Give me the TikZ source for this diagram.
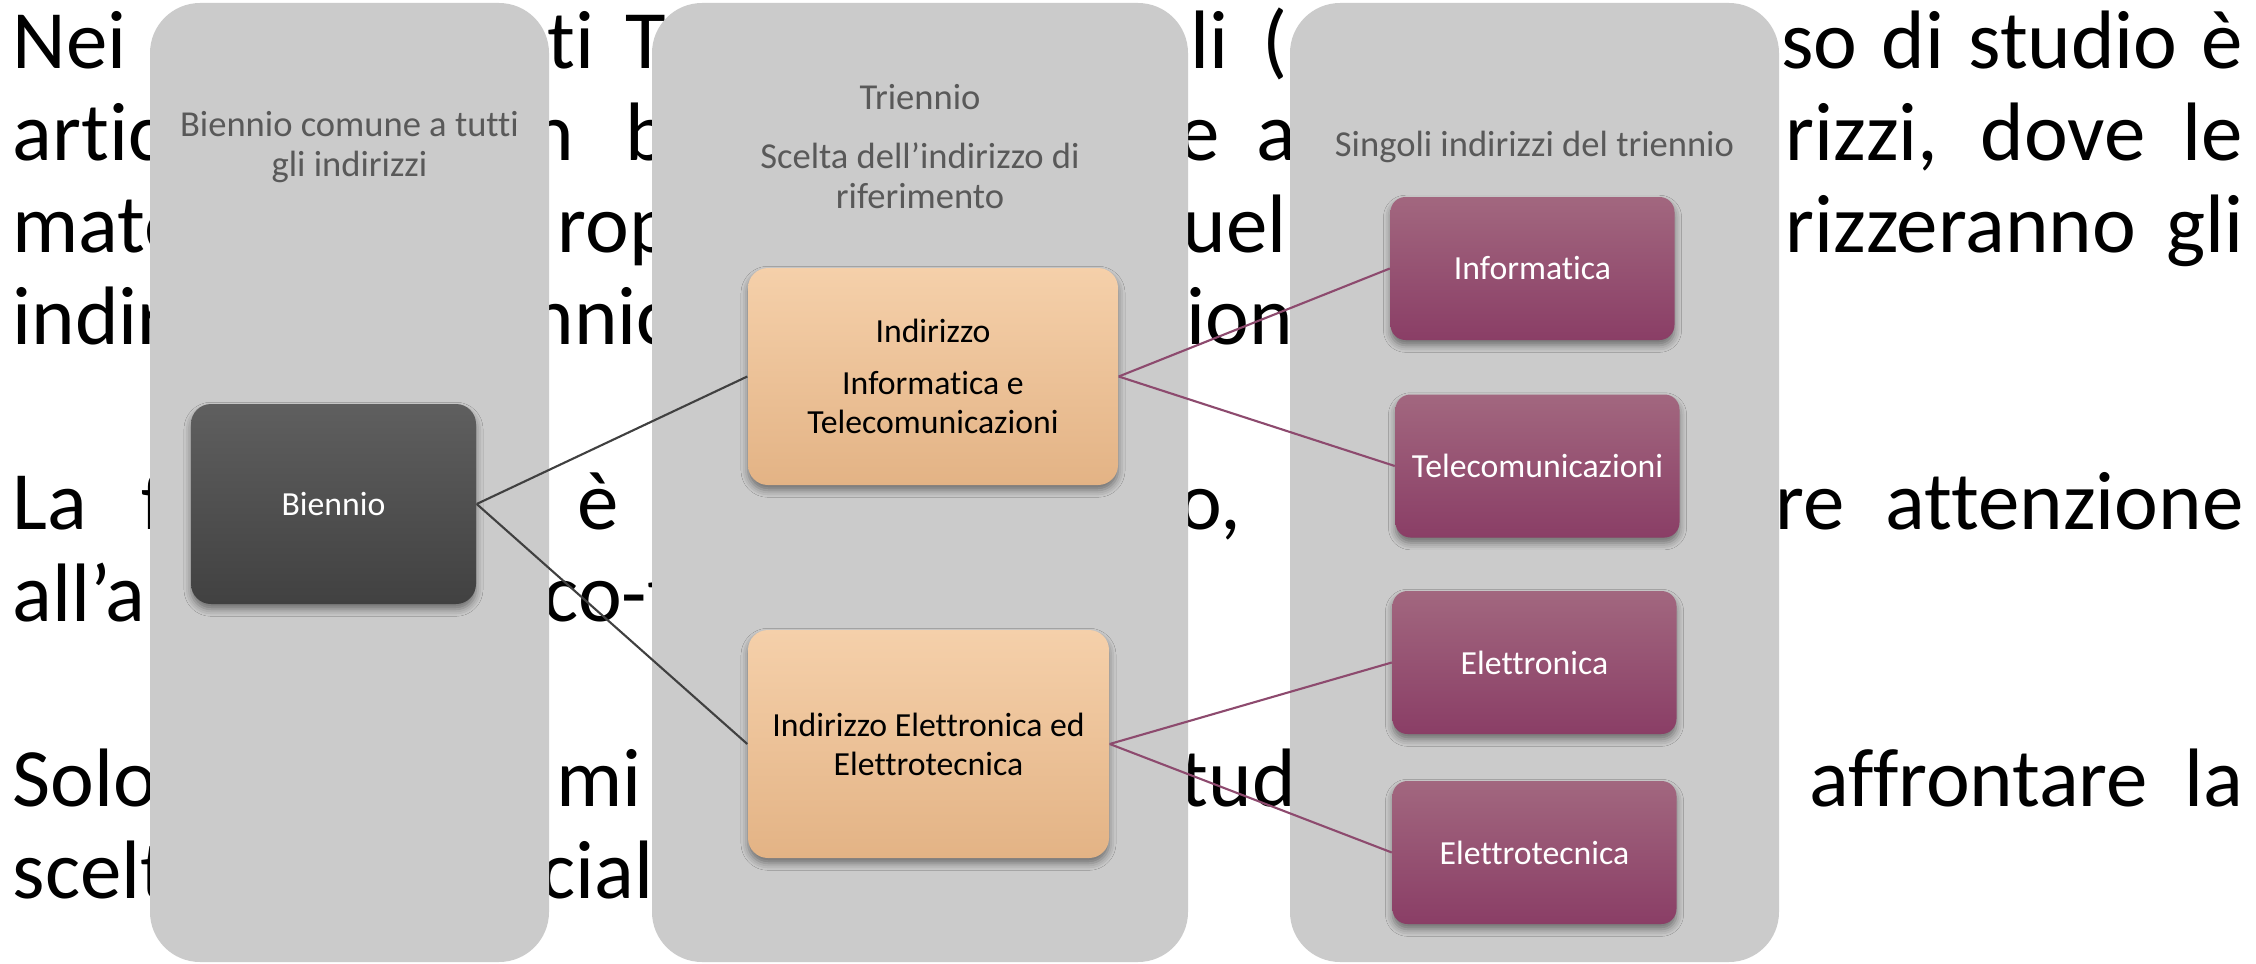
\documentclass[tikz,border=0pt]{standalone}
\usepackage{fontspec}
\setmainfont{Carlito}[Ligatures={NoCommon}]
\usetikzlibrary{shadows.blur}
\definecolor{panelgray}{HTML}{CBCBCB}
\definecolor{titlegray}{HTML}{595959}
\definecolor{darktop}{HTML}{5F5F5F}
\definecolor{darkbot}{HTML}{414141}
\definecolor{peachtop}{HTML}{F5D0AA}
\definecolor{peachbot}{HTML}{E3B385}
\definecolor{plumtop}{HTML}{A2677F}
\definecolor{plumbot}{HTML}{8A3E66}
\definecolor{plumline}{HTML}{8D4A6E}
\definecolor{darkline}{HTML}{404040}
\tikzset{body/.style={anchor=base west, inner sep=0pt, font=\fontsize{23.6}{26.3}\selectfont},
         bodyend/.style={body, anchor=base east},
         panel/.style={fill=panelgray, draw=none, rounded corners=0.5cm, inner sep=0pt},
         coltitle/.style={text=titlegray, align=center, inner sep=0pt, font=\fontsize{10.4}{11.4}\selectfont},
         box/.style={rounded corners=0.2cm, align=center, inner sep=0pt, font=\fontsize{9.6}{11.1}\selectfont,
                     blur shadow={shadow xshift=0pt, shadow yshift=-1.5pt, shadow blur radius=2pt, shadow opacity=45}},
         darkbox/.style={box, top color=darktop, bottom color=darkbot, text=white, minimum width=2.85cm, minimum height=2.00cm},
         peachbox/.style={box, top color=peachtop, bottom color=peachbot, text=black},
         plumbox/.style={box, rounded corners=0.15cm, top color=plumtop, bottom color=plumbot, text=white, minimum width=2.84cm, minimum height=1.43cm},
         darklink/.style={darkline, line width=0.6pt},
         plumlink/.style={plumline, line width=0.6pt}}

\begin{document}
\begin{tikzpicture}
   \useasboundingbox (0,0) rectangle (22.56,-9.64);

   \node[body]    (w11) at ( 0.12,-0.680) {Nei};
   \node[body]    (w12) at ( 5.47,-0.680) {ti\hspace{0.31cm}T};
   \node[body]    (w13) at (11.90,-0.680) {li\hspace{0.34cm}(};
   \node[bodyend] (w14) at (22.44,-0.680) {\makebox[4.62cm][s]{so di studio è}};
   \node[body]    (w21) at ( 0.12,-1.603) {artic};
   \node[body]    (w22) at ( 5.30,-1.603) {n\hspace{0.51cm}b};
   \node[body]    (w23) at (11.78,-1.603) {e\hspace{0.36cm}a};
   \node[bodyend] (w24) at (22.44,-1.603) {\makebox[4.58cm][s]{rizzi, dove le}};
   \node[body]    (w31) at ( 0.12,-2.526) {mate};
   \node[body]    (w32) at ( 5.57,-2.526) {rop};
   \node[body]    (w33) at (11.82,-2.526) {uel};
   \node[bodyend] (w34) at (22.44,-2.526) {\makebox[4.58cm][s]{rizzeranno gli}};
   \node[body]    (w41) at ( 0.12,-3.449) {indir};
   \node[body]    (w42) at ( 5.30,-3.449) {nnic};
   \node[body]    (w43) at (11.86,-3.449) {ion};
   \node[body]    (w51) at ( 0.12,-5.295) {La\hspace{0.54cm}f};
   \node[body]    (w52) at ( 5.77,-5.295) {è};
   \node[body]    (w53) at (11.78,-5.295) {o,};
   \node[bodyend] (w54) at (22.44,-5.295) {\makebox[4.68cm][s]{re attenzione}};
   \node[body]    (w61) at ( 0.12,-6.218) {all’a};
   \node[body]    (w62) at ( 5.43,-6.218) {co-t};
   \node[body]    (w71) at ( 0.12,-8.064) {Solo};
   \node[body]    (w72) at ( 5.56,-8.064) {mi};
   \node[body]    (w73) at (11.80,-8.064) {tud};
   \node[bodyend] (w74) at (22.44,-8.064) {\makebox[4.34cm][s]{affrontare la}};
   \node[body]    (w81) at ( 0.12,-8.987) {scelt};
   \node[body]    (w82) at ( 5.40,-8.987) {cial};

   \node[panel, minimum width=3.99cm, minimum height=9.59cm] (col1) at ( 3.495,-4.825) {};
   \node[panel, minimum width=5.36cm, minimum height=9.59cm] (col2) at ( 9.200,-4.825) {};
   \node[panel, minimum width=4.89cm, minimum height=9.59cm] (col3) at (15.345,-4.825) {};

   \node[coltitle] (title1) at ( 3.495,-1.47) {Biennio comune a tutti\\gli indirizzi};
   \node[coltitle] (title2) at ( 9.200,-1.47) {Triennio\\[5.4pt]Scelta dell’indirizzo di\\riferimento};
   \node[coltitle] (title3) at (15.345,-1.47) {Singoli indirizzi del triennio};

   \node[darkbox] (biennio) at (3.335,-5.04) {Biennio};
   \node[peachbox, minimum width=3.70cm, minimum height=2.17cm] (infotel) at (9.330,-3.765) {Indirizzo\\[3.7pt]Informatica e\\Telecomunicazioni};
   \node[peachbox, minimum width=3.61cm, minimum height=2.28cm] (eletel)  at (9.285,-7.440) {Indirizzo Elettronica ed\\Elettrotecnica};

   \node[plumbox] (informatica)    at (15.325,-2.685) {Informatica};
   \node[plumbox] (telecom)        at (15.375,-4.660) {Telecomunicazioni};
   \node[plumbox] (elettronica)    at (15.345,-6.625) {Elettronica};
   \node[plumbox] (elettrotecnica) at (15.345,-8.525) {Elettrotecnica};

   \draw[darklink] (biennio.east) -- (infotel.west);
   \draw[darklink] (biennio.east) -- (eletel.west);
   \draw[plumlink] (infotel.east) -- (informatica.west);
   \draw[plumlink] (infotel.east) -- (telecom.west);
   \draw[plumlink] (eletel.east)  -- (elettronica.west);
   \draw[plumlink] (eletel.east)  -- (elettrotecnica.west);
\end{tikzpicture}
\end{document}
